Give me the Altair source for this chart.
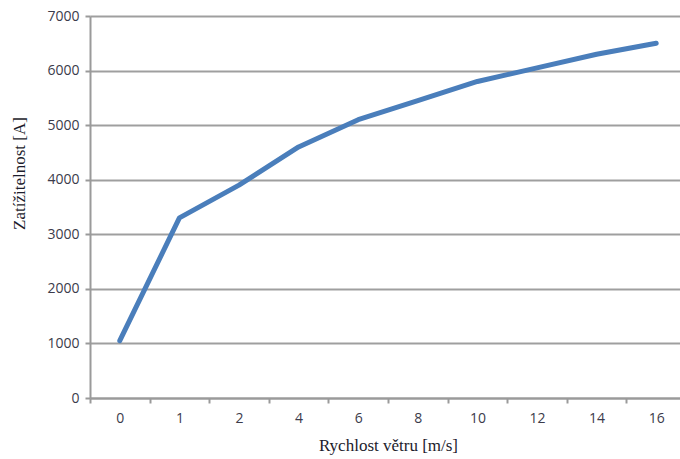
import altair as alt
import pandas as pd

speeds = ["0", "1", "2", "4", "6", "8", "10", "12", "14", "16"]
loads = [1050, 3300, 3900, 4600, 5100, 5450, 5800, 6050, 6300, 6500]

df = pd.DataFrame({"speed": speeds, "load": loads})

line = alt.Chart(df).mark_line(color="#4a7ebb", strokeWidth=5, strokeCap="round", strokeJoin="round").encode(
    x=alt.X("speed:N", sort=speeds,
            scale=alt.Scale(paddingInner=0, paddingOuter=0, range=[0, 596]),
            axis=alt.Axis(title="Rychlost větru [m/s]", labelAngle=0, tickBand="extent",
                          grid=False, domain=True, domainColor="#9a9a9a", domainWidth=2,
                          ticks=True, tickColor="#9a9a9a", tickWidth=2, tickSize=5,
                          labelFont="Open Sans", labelFontSize=14, labelColor="#3b3b4b",
                          labelPadding=8,
                          titleFont="Liberation Serif", titleFontSize=17, titleFontWeight="normal",
                          titleColor="#1c1c2c", titlePadding=12)),
    y=alt.Y("load:Q", scale=alt.Scale(domain=[0, 7000], nice=False),
            axis=alt.Axis(title="Zatížitelnost [A]", values=list(range(0, 7001, 1000)), format="d",
                          grid=True, gridColor="#9f9f9f", gridWidth=2,
                          domain=True, domainColor="#9a9a9a", domainWidth=2,
                          ticks=True, tickColor="#9a9a9a", tickWidth=2, tickSize=5,
                          labelFont="Open Sans", labelFontSize=14, labelColor="#3b3b4b",
                          labelPadding=6,
                          titleFont="Liberation Serif", titleFontSize=17, titleFontWeight="normal",
                          titleColor="#1c1c2c", titleX=-71, titleY=157, titleAngle=-90,
                          titleAlign="center", titleBaseline="middle")),
)

chart = line.properties(
    width=590, height=382,
    autosize=alt.AutoSizeParams(type="none"),
    padding={"left": 90, "top": 16, "right": 0, "bottom": 61},
    background="white",
).configure_view(stroke=None)

chart.save("out.html", embed_options={"renderer": "svg", "actions": False})
